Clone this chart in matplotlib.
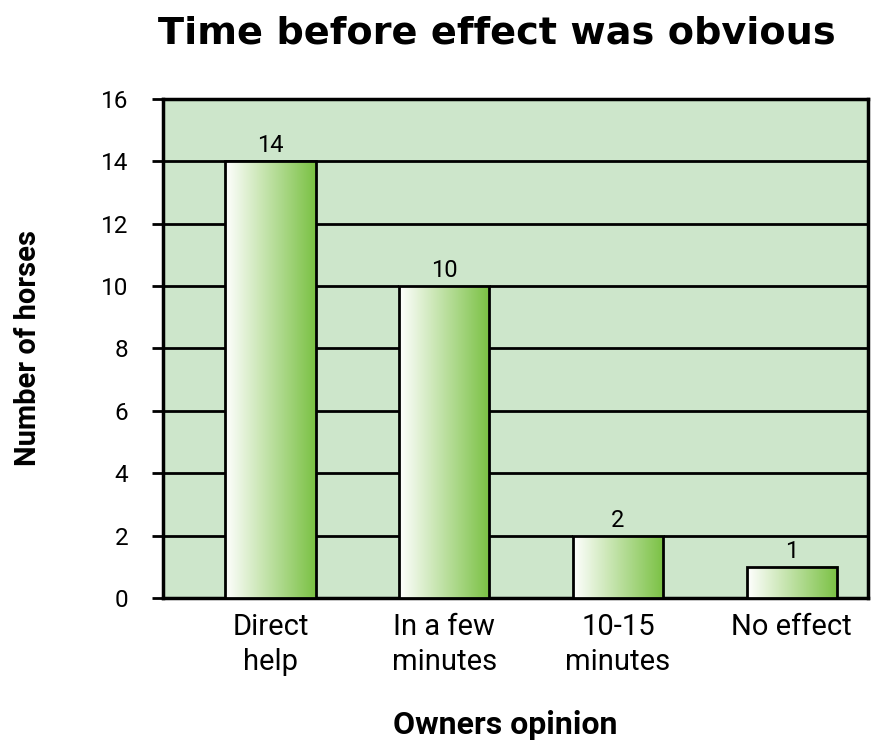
import matplotlib
matplotlib.use("Agg")
import matplotlib.pyplot as plt
import numpy as np
from matplotlib.colors import LinearSegmentedColormap

categories = ["Direct\nhelp", "In a few\nminutes", "10-15\nminutes", "No effect"]
values = [14, 10, 2, 1]
yticks = [0, 2, 4, 6, 8, 10, 12, 14, 16]
title = "Time before effect was obvious"
xlabel = "Owners opinion"
ylabel = "Number of horses"

BG = "#cde6cb"
GREEN = "#7ac143"

fig = plt.figure(figsize=(8.85, 7.43), dpi=100)
ax = fig.add_axes([0.184, 0.195, 0.797, 0.672])
ax.set_facecolor(BG)

x = np.arange(len(categories))
bars = ax.bar(x, values, width=0.52, color="none", edgecolor="black", linewidth=2, zorder=4)

cmap = LinearSegmentedColormap.from_list("g", ["#ffffff", GREEN])
grad = np.linspace(0, 1, 256).reshape(1, -1)
for b in bars:
    x0, w, h = b.get_x(), b.get_width(), b.get_height()
    ax.imshow(grad, cmap=cmap, aspect="auto", extent=(x0, x0 + w, 0, h), zorder=3)
    ax.text(x0 + w / 2, h + 0.12, f"{h:g}", ha="center", va="bottom",
            fontsize=17, family="Roboto", zorder=5)

ax.set_xlim(-0.62, 3.44)
ax.set_ylim(0, 16)
ax.set_yticks(yticks)
ax.yaxis.grid(True, color="black", linewidth=2)
ax.set_axisbelow(True)
ax.set_xticks(x)
ax.set_xticklabels(categories, fontsize=21, family="Roboto", linespacing=1.3)
ax.tick_params(axis="x", length=0, pad=11)
ax.tick_params(axis="y", length=8, width=2, pad=17, labelsize=17.5)
for lab in ax.get_yticklabels():
    lab.set_family("Roboto")
for s in ax.spines.values():
    s.set_linewidth(2.5)
    s.set_color("black")

ax.set_xlabel(xlabel, fontsize=23, fontweight="bold", family="Roboto", labelpad=22)
ax.xaxis.set_label_coords(0.485, -0.225)
ax.set_ylabel(ylabel, fontsize=21, fontweight="bold", family="Roboto", labelpad=42)
fig.text(0.562, 0.955, title, ha="center", va="center", fontsize=27.5,
         fontweight="bold", family="DejaVu Sans")

fig.savefig("out.png", dpi=100)
